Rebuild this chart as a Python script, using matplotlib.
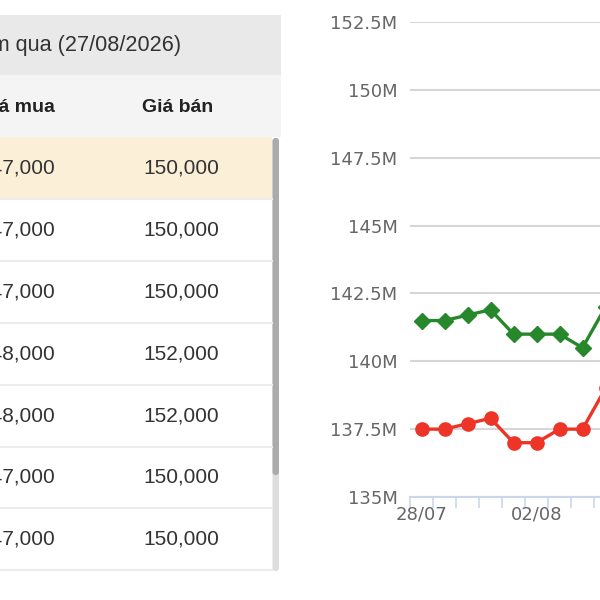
import numpy as np
import matplotlib.pyplot as plt
from matplotlib.patches import Rectangle, FancyBboxPatch

# dữ liệu bảng (nghìn đồng)
tieu_de = 'Giá vàng hôm qua (27/08/2026)'
cot = ['Giá mua', 'Giá bán']
gia_mua = ['147,000', '147,000', '147,000', '148,000', '148,000', '147,000', '147,000']
gia_ban = ['150,000', '150,000', '150,000', '152,000', '152,000', '150,000', '150,000']

# dữ liệu biểu đồ (triệu đồng)
ngay = ['28/07', '29/07', '30/07', '31/07', '01/08', '02/08', '03/08', '04/08', '05/08']
gia_ban_chart = [141.5, 141.5, 141.7, 141.9, 141.0, 141.0, 141.0, 140.5, 142.0]
gia_mua_chart = [137.5, 137.5, 137.7, 137.9, 137.0, 137.0, 137.5, 137.5, 139.0]
y_ticks = [135, 137.5, 140, 142.5, 145, 147.5, 150, 152.5]

W = 600
fig = plt.figure(figsize=(6, 6), dpi=100)

# ---- bảng bên trái, toạ độ pixel ----
tb = fig.add_axes([0, 0, 1, 1])
tb.set_xlim(0, W)
tb.set_ylim(W, 0)
tb.axis('off')

tb.add_patch(Rectangle((-5, 15), 286, 60, color='#e9e9e9', lw=0))
tb.add_patch(Rectangle((-5, 75), 286, 62, color='#f4f4f4', lw=0))
tb.text(181, 45, tieu_de, ha='right', va='center', fontsize=15.6,
        family='Liberation Sans', color='#333333')
tb.text(55, 107, cot[0], ha='right', va='center', fontsize=14, weight='bold',
        family='Liberation Sans', color='#222222')
tb.text(142, 107, cot[1], ha='left', va='center', fontsize=14, weight='bold',
        family='Liberation Sans', color='#222222')

row_h = 61.9
top = 137
for i in range(len(gia_mua)):
    y0 = top + i * row_h
    if i == 0:
        tb.add_patch(Rectangle((-5, y0), 277, row_h, color='#fcefd8', lw=0))
    tb.plot([-5, 272], [y0 + row_h, y0 + row_h], color='#ececec', lw=1.5)
    tb.text(55, y0 + row_h / 2, gia_mua[i], ha='right', va='center', fontsize=15,
            family='Liberation Sans', color='#333333')
    tb.text(143, y0 + row_h / 2, gia_ban[i], ha='left', va='center', fontsize=15,
            family='Liberation Sans', color='#333333')

# thanh cuộn
tb.add_patch(FancyBboxPatch((272.5, 138), 6.5, 433, boxstyle='round,pad=0,rounding_size=3',
                            color='#dedede', lw=0))
tb.add_patch(FancyBboxPatch((272.5, 138), 6.5, 337, boxstyle='round,pad=0,rounding_size=3',
                            color='#ababab', lw=0))

# ---- biểu đồ bên phải ----
n = len(ngay)
px_per_cat = 23.0
left, bottom_px, top_px = 410, 497, 22
n_cat = 12
ax = fig.add_axes([left / W, (W - bottom_px) / W, n_cat * px_per_cat / W,
                   (bottom_px - top_px) / W])
x = np.arange(n)

ax.plot(x, gia_ban_chart, color='#26882a', lw=2.4, marker='D', ms=8.5, zorder=3, clip_on=False)
ax.plot(x, gia_mua_chart, color='#ee3327', lw=2.4, marker='o', ms=9.5, zorder=3, clip_on=False)

ax.set_xlim(-0.5, n_cat - 0.5)
ax.set_ylim(135, 152.5)
ax.set_yticks(y_ticks)
ax.set_yticklabels(['{:g}M'.format(v) for v in y_ticks])
ax.tick_params(axis='y', length=0, pad=9, labelsize=13, labelcolor='#666666')
ax.grid(axis='y', color='#d6d6d6', lw=1.5)
ax.set_axisbelow(True)

ax.set_xticks(np.arange(-0.5, n_cat, 1))
ax.set_xticklabels([])
ax.tick_params(axis='x', which='major', length=8, width=1.2, color='#ccd6eb')
ax.set_xticks(x[::5], [ngay[i] for i in x[::5]], minor=True)
ax.tick_params(axis='x', which='minor', length=0, pad=6, labelsize=13, labelcolor='#666666')

for s in ['left', 'right', 'top']:
    ax.spines[s].set_visible(False)
ax.spines['bottom'].set_color('#ccd6eb')
ax.spines['bottom'].set_linewidth(1.5)

fig.savefig('out.png', dpi=100)
